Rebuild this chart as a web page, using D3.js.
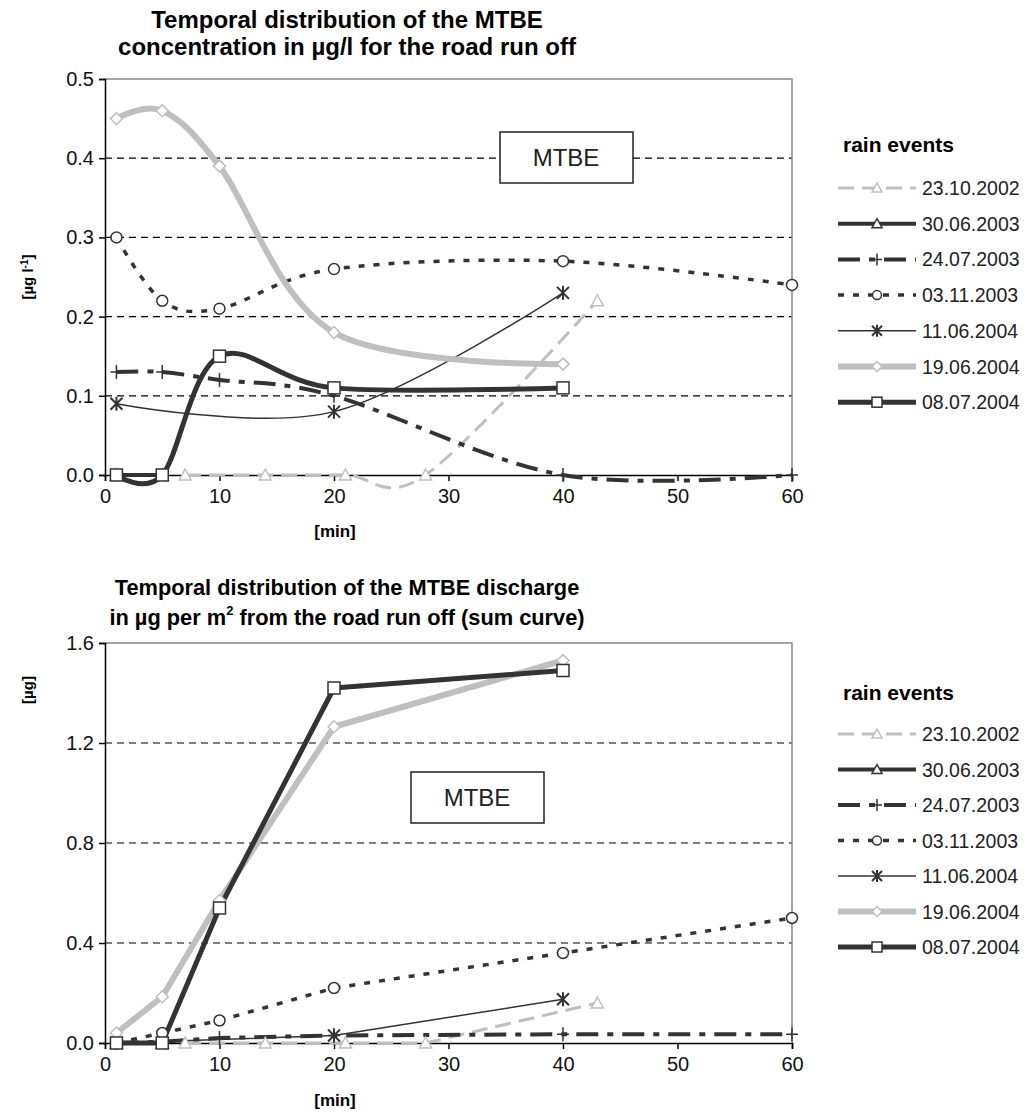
<!DOCTYPE html>
<html>
<head>
<meta charset="utf-8">
<script src="https://cdn.jsdelivr.net/npm/d3@7"></script>
<style>
  body { margin: 0; background: #fff; }
  svg { font-family: Arial, "Liberation Sans", sans-serif; }
</style>
</head>
<body>
<svg id="chart" width="1030" height="1113"></svg>
<script>
// rain events (legend order)
var events = ["23.10.2002", "30.06.2003", "24.07.2003", "03.11.2003", "11.06.2004", "19.06.2004", "08.07.2004"];
var xTicks = [0, 10, 20, 30, 40, 50, 60];

// concentration [µg/l] : [min, value]
var conc_231002 = [[7, 0], [14, 0], [21, 0], [28, 0], [43, 0.22]];
var conc_300603 = [[1, 0], [5, 0]];
var conc_240703 = [[1, 0.13], [5, 0.13], [10, 0.12], [20, 0.10], [40, 0.0], [60, 0.0]];
var conc_031103 = [[1, 0.30], [5, 0.22], [10, 0.21], [20, 0.26], [40, 0.27], [60, 0.24]];
var conc_110604 = [[1, 0.09], [20, 0.08], [40, 0.23]];
var conc_190604 = [[1, 0.45], [5, 0.46], [10, 0.39], [20, 0.18], [40, 0.14]];
var conc_080704 = [[1, 0.0], [5, 0.0], [10, 0.15], [20, 0.11], [40, 0.11]];
var concTicks = [0, 0.1, 0.2, 0.3, 0.4, 0.5];

// discharge sum [µg per m2] : [min, value]
var disc_231002 = [[7, 0], [14, 0], [21, 0], [28, 0], [43, 0.16]];
var disc_300603 = [[1, 0], [5, 0]];
var disc_240703 = [[1, 0], [5, 0.005], [10, 0.02], [20, 0.03], [40, 0.035], [60, 0.035]];
var disc_031103 = [[1, 0], [5, 0.04], [10, 0.09], [20, 0.22], [40, 0.36], [60, 0.50]];
var disc_110604 = [[1, 0], [20, 0.03], [40, 0.175]];
var disc_190604 = [[1, 0.04], [5, 0.185], [10, 0.57], [20, 1.265], [40, 1.53]];
var disc_080704 = [[1, 0], [5, 0], [10, 0.54], [20, 1.42], [40, 1.49]];
var discTicks = [0, 0.4, 0.8, 1.2, 1.6];

var gray = "#bfbfbf", dark = "#333";

// one style per event
var styles = [
  {color: gray, width: 3, dash: "16,8", marker: "triangle"},
  {color: dark, width: 4, dash: null, marker: "triangle"},
  {color: dark, width: 4, dash: "22,9,6,9", marker: "plus"},
  {color: dark, width: 3.5, dash: "6,9", marker: "circle"},
  {color: dark, width: 1.5, dash: null, marker: "star"},
  {color: gray, width: 6, dash: null, marker: "diamond"},
  {color: dark, width: 5, dash: null, marker: "square"}
];

var svg = d3.select("#chart");

function marker(g, type, x, y, color, r) {
  r = r || 6;
  if (type == "triangle") {
    g.append("path").attr("d", "M" + x + "," + (y - r) + "L" + (x + r) + "," + (y + r - 1) + "L" + (x - r) + "," + (y + r - 1) + "Z")
      .attr("fill", "#fff").attr("stroke", color).attr("stroke-width", 1.5);
  } else if (type == "plus") {
    g.append("path").attr("d", "M" + (x - r) + "," + y + "H" + (x + r) + "M" + x + "," + (y - r - 1) + "V" + (y + r + 1))
      .attr("stroke", color).attr("stroke-width", 1.5);
  } else if (type == "circle") {
    g.append("circle").attr("cx", x).attr("cy", y).attr("r", r - 0.5)
      .attr("fill", "#fff").attr("stroke", color).attr("stroke-width", 1.5);
  } else if (type == "star") {
    g.append("path").attr("d", "M" + (x - r) + "," + (y - r) + "L" + (x + r) + "," + (y + r) + "M" + (x + r) + "," + (y - r) + "L" + (x - r) + "," + (y + r) + "M" + x + "," + (y - r - 1) + "V" + (y + r + 1))
      .attr("stroke", color).attr("stroke-width", 2);
  } else if (type == "diamond") {
    g.append("path").attr("d", "M" + x + "," + (y - r) + "L" + (x + r) + "," + y + "L" + x + "," + (y + r) + "L" + (x - r) + "," + y + "Z")
      .attr("fill", "#fff").attr("stroke", gray).attr("stroke-width", 1.5);
  } else if (type == "square") {
    g.append("rect").attr("x", x - r).attr("y", y - r).attr("width", 2 * r).attr("height", 2 * r)
      .attr("fill", "#fff").attr("stroke", color).attr("stroke-width", 1.5);
  }
}

function drawChart(opt) {
  var x = d3.scaleLinear().domain([0, 60]).range([105, 792]);
  var y = d3.scaleLinear().domain([0, opt.yMax]).range([opt.bottom, opt.top]);
  var g = svg.append("g");

  // titles
  g.append("text").attr("x", 347).attr("y", opt.top - opt.t1).attr("text-anchor", "middle")
    .attr("font-size", opt.titleSize).attr("font-weight", "bold").text(opt.title1);
  var t2 = g.append("text").attr("x", 347).attr("y", opt.top - opt.t2).attr("text-anchor", "middle")
    .attr("font-size", opt.titleSize).attr("font-weight", "bold");
  opt.title2(t2);

  // grid
  g.selectAll(".grid").data(opt.ticks.slice(1, -1)).enter().append("line")
    .attr("x1", x(0)).attr("x2", x(60)).attr("y1", d => y(d)).attr("y2", d => y(d))
    .attr("stroke", "#000").attr("stroke-width", 1.2).attr("stroke-dasharray", "7,5");
  // frame top/right
  g.append("path").attr("d", "M" + x(0) + "," + y(opt.yMax) + "H" + x(60) + "V" + y(0))
    .attr("fill", "none").attr("stroke", "#888").attr("stroke-width", 1.5);

  // axes
  var yAxis = g.append("g").attr("transform", "translate(" + x(0) + ",0)")
    .call(d3.axisLeft(y).tickValues(opt.ticks).tickFormat(d3.format(".1f")).tickSize(6).tickPadding(5));
  var xAxis = g.append("g").attr("transform", "translate(0," + y(0) + ")")
    .call(d3.axisBottom(x).tickValues(xTicks).tickSize(6).tickPadding(8));
  [xAxis, yAxis].forEach(function(a) {
    a.attr("font-size", 20).attr("font-family", "Arial, Liberation Sans, sans-serif");
    a.select(".domain").attr("stroke", "#000").attr("stroke-width", 1.5);
    a.selectAll(".tick line").attr("stroke", "#000").attr("stroke-width", 1.5);
    a.selectAll(".tick text").attr("fill", "#111");
  });

  g.append("text").attr("x", 335).attr("y", y(0) + opt.minY).attr("text-anchor", "middle")
    .attr("font-size", 17).attr("font-weight", "bold").text("[min]");

  // y label
  var yl = g.append("text").attr("transform", "translate(33," + opt.yLabelY + ") rotate(-90)")
    .attr("text-anchor", "middle").attr("font-size", 15).attr("font-weight", "bold");
  opt.yLabel(yl);

  // MTBE box
  g.append("rect").attr("x", opt.box[0]).attr("y", opt.box[1]).attr("width", 133).attr("height", 51)
    .attr("fill", "#fff").attr("stroke", "#222").attr("stroke-width", 1.5);
  g.append("text").attr("x", opt.box[0] + 66).attr("y", opt.box[1] + 34).attr("text-anchor", "middle")
    .attr("font-size", 24).attr("fill", "#222").text("MTBE");

  // series
  var line = d3.line().x(d => x(d[0])).y(d => y(d[1])).curve(opt.curve);
  opt.series.forEach(function(s, i) {
    var st = styles[i];
    g.append("path").datum(s).attr("d", line).attr("fill", "none")
      .attr("stroke", st.color).attr("stroke-width", st.width)
      .attr("stroke-dasharray", st.dash).attr("stroke-linejoin", "round");
  });
  opt.series.forEach(function(s, i) {
    s.forEach(function(d) { marker(g, styles[i].marker, x(d[0]), y(d[1]), styles[i].color); });
  });

  // legend
  var lg = g.append("g");
  lg.append("text").attr("x", 843).attr("y", opt.legendTop).attr("font-size", 21).attr("font-weight", "bold").text("rain events");
  events.forEach(function(e, i) {
    var ly = opt.legendTop + opt.legendGap + i * opt.legendStep;
    var st = styles[i];
    lg.append("line").attr("x1", 838).attr("x2", 916).attr("y1", ly).attr("y2", ly)
      .attr("stroke", st.color).attr("stroke-width", st.width).attr("stroke-dasharray", st.dash);
    marker(lg, st.marker, 877, ly, st.color, 5);
    lg.append("text").attr("x", 922).attr("y", ly + 7).attr("font-size", 19.5).attr("fill", "#222").text(e);
  });
}

drawChart({
  top: 79, bottom: 475, yMax: 0.5, ticks: concTicks, t1: 51, t2: 24, minY: 62, titleSize: 24,
  title1: "Temporal distribution of the MTBE",
  title2: function(t) { t.text("concentration in µg/l for the road run off"); },
  yLabel: function(t) { t.text("[µg l"); t.append("tspan").attr("dy", -5).attr("font-size", 10).text("-1"); t.append("tspan").attr("dy", 5).text("]"); },
  yLabelY: 277,
  box: [500, 132],
  curve: d3.curveCardinal.tension(0),
  series: [conc_231002, conc_300603, conc_240703, conc_031103, conc_110604, conc_190604, conc_080704],
  legendTop: 152, legendGap: 36, legendStep: 35.7
});

drawChart({
  top: 643, bottom: 1043, yMax: 1.6, ticks: discTicks, t1: 48, t2: 18, minY: 63, titleSize: 21.8,
  title1: "Temporal distribution of the MTBE discharge",
  title2: function(t) { t.text("in µg per m"); t.append("tspan").attr("dy", -10).attr("font-size", 13).text("2"); t.append("tspan").attr("dy", 10).text(" from the road run off (sum curve)"); },
  yLabel: function(t) { t.text("[µg]"); },
  yLabelY: 690,
  box: [411, 772],
  curve: d3.curveLinear,
  series: [disc_231002, disc_300603, disc_240703, disc_031103, disc_110604, disc_190604, disc_080704],
  legendTop: 700, legendGap: 34, legendStep: 35.5
});
</script>
</body>
</html>
